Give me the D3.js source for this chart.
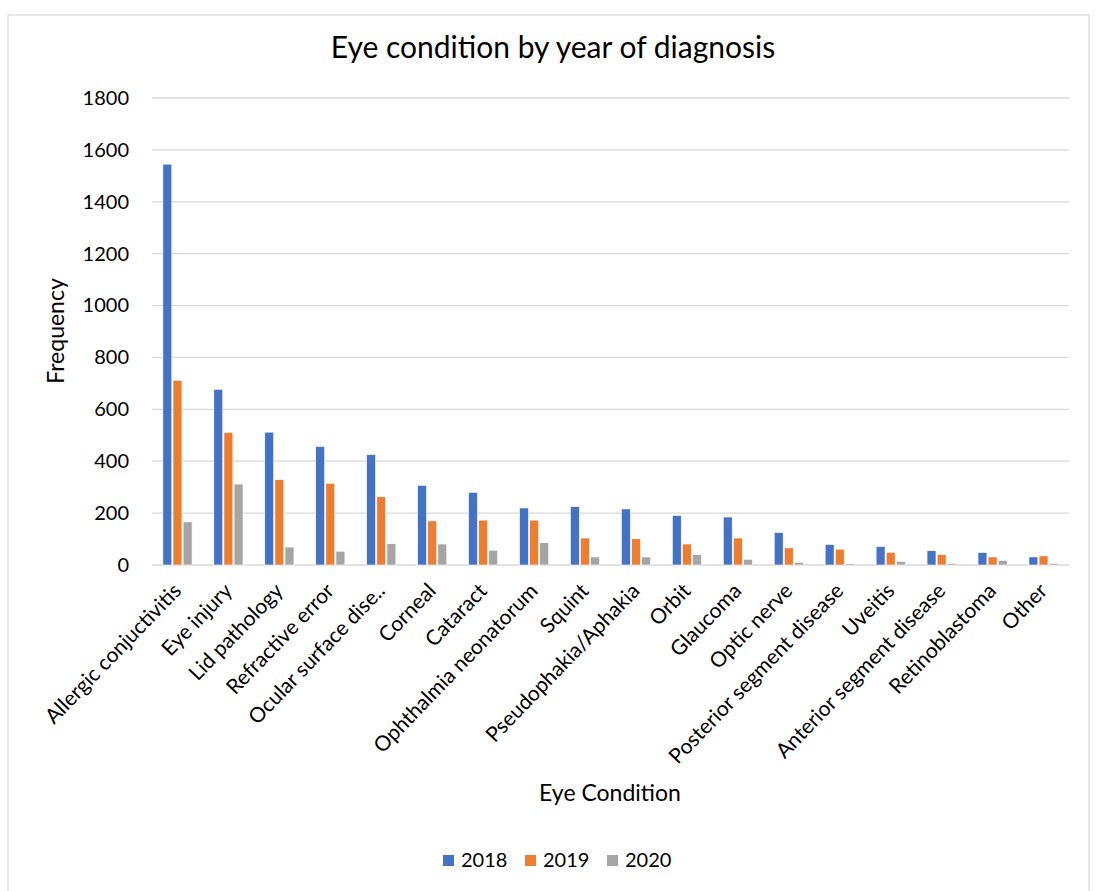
<!DOCTYPE html>
<html><head><meta charset="utf-8">
<script src="https://cdn.jsdelivr.net/npm/d3@7"></script>
<style>body{margin:0;background:#fff;} svg{display:block;font-family:Lato, "Liberation Sans", sans-serif;}</style>
</head><body>
<script>
const categories = ["Allergic conjuctivitis","Eye injury","Lid pathology","Refractive error","Ocular surface dise..","Corneal","Cataract","Ophthalmia neonatorum","Squint","Pseudophakia/Aphakia","Orbit","Glaucoma","Optic nerve","Posterior segment disease","Uveitis","Anterior segment disease","Retinoblastoma","Other"];
const years = ["2018","2019","2020"];
const values2018 = [1545,677,512,457,425,307,280,220,225,216,191,185,125,79,71,55,48,31];
const values2019 = [712,511,329,315,263,170,173,173,104,101,81,104,66,61,49,40,31,35];
const values2020 = [166,312,69,53,82,81,57,86,31,31,40,22,10,5,14,6,17,6];
const yTicks = [0,200,400,600,800,1000,1200,1400,1600,1800];
const colors = ["#4472C4","#ED7D31","#A5A5A5"];

const W = 1098, H = 891;
const m = {left:152, right:1069, top:98, bottom:565};
const svg = d3.select("body").append("svg").attr("width",W).attr("height",H);
svg.append("rect").attr("x",8).attr("y",15).attr("width",1081).attr("height",H).attr("fill","#fff").attr("stroke","#d9d9d9").attr("stroke-width",1.2);

const x = d3.scaleBand().domain(categories).range([m.left,m.right]).paddingInner(0.38).paddingOuter(0.19);
const xi = d3.scaleBand().domain(years).range([0,x.bandwidth()]).padding(0.12);
const y = d3.scaleLinear().domain([0,1800]).range([m.bottom,m.top]);

// gridlines
svg.append("g").selectAll("line").data(yTicks).join("line")
  .attr("x1",m.left).attr("x2",m.right).attr("y1",d=>y(d)).attr("y2",d=>y(d))
  .attr("stroke","#d9d9d9").attr("stroke-width",1.3);

// y axis labels
const yAxis = d3.axisLeft(y).tickValues(yTicks).tickFormat(d3.format("d")).tickSize(0).tickPadding(0);
const ga = svg.append("g").attr("transform",`translate(${m.left-23},0)`).call(yAxis);
ga.select(".domain").remove();
ga.selectAll("text").attr("font-size",20).attr("fill","#000").attr("font-family","Lato");

const series = [values2018, values2019, values2020];
const g = svg.append("g");
categories.forEach((c,i)=>{
  years.forEach((yr,j)=>{
    const v = series[j][i];
    g.append("rect").attr("x",x(c)+xi(yr)).attr("y",y(v)).attr("width",xi.bandwidth()).attr("height",y(0)-y(v))
      .attr("fill",colors[j]).attr("stroke","#fff").attr("stroke-width",0.6);
  });
});

// x labels
const xAxis = d3.axisBottom(x).tickSize(0).tickPadding(0);
const gx = svg.append("g").attr("transform",`translate(0,${m.bottom})`).call(xAxis);
gx.select(".domain").remove();
gx.selectAll("text").attr("font-size",21).attr("fill","#000").attr("font-family","Lato")
  .attr("text-anchor","end").attr("dy",null).attr("y",0)
  .attr("transform","translate(5,27) rotate(-46)");

// titles
svg.append("text").attr("x",553).attr("y",58).attr("text-anchor","middle").attr("font-size",30).text("Eye condition by year of diagnosis");
svg.append("text").attr("transform","translate(64,331) rotate(-90)").attr("text-anchor","middle").attr("font-size",23).text("Frequency");
svg.append("text").attr("x",610).attr("y",801).attr("text-anchor","middle").attr("font-size",23).text("Eye Condition");

// legend
const lx = [443,525,607];
years.forEach((yr,j)=>{
  svg.append("rect").attr("x",lx[j]).attr("y",855).attr("width",11).attr("height",11).attr("fill",colors[j]);
  svg.append("text").attr("x",lx[j]+18).attr("y",867).attr("font-size",20).text(yr);
});
</script>
</body></html>
